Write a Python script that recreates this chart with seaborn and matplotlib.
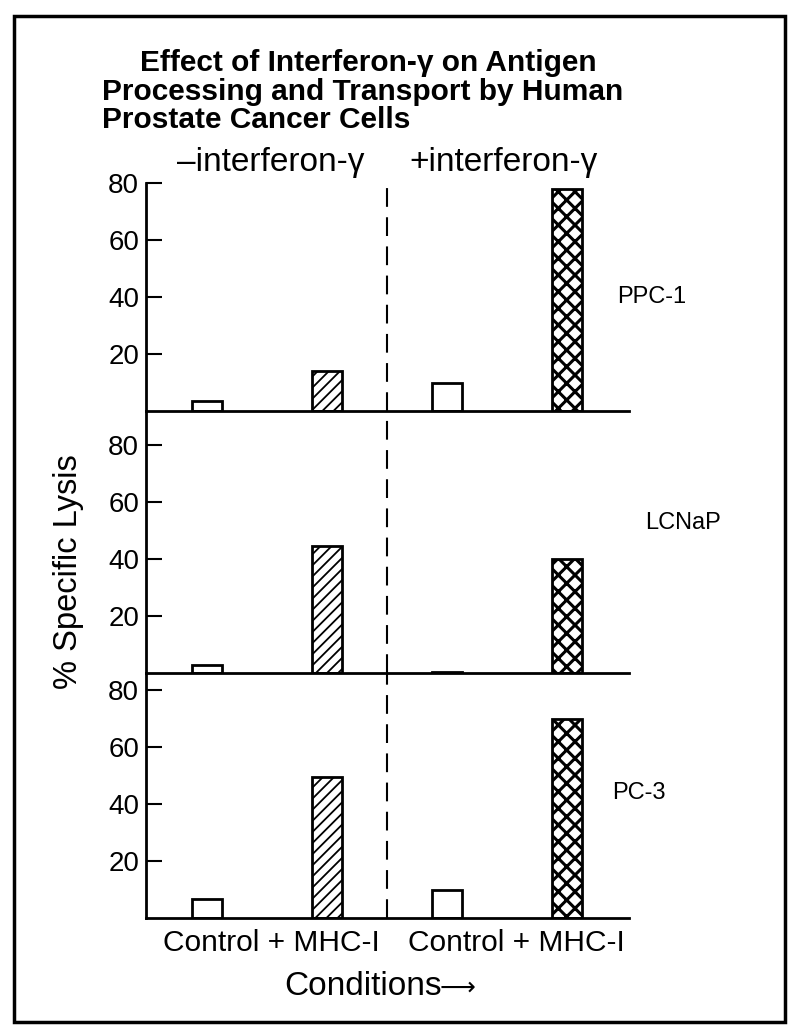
import matplotlib
matplotlib.use("Agg")
import matplotlib.pyplot as plt
from matplotlib.patches import Rectangle
import seaborn as sns
import pandas as pd

# data
cell_lines = ["PPC-1", "LCNaP", "PC-3"]
conditions = ["-IFN Control", "-IFN MHC-I", "+IFN Control", "+IFN MHC-I"]
ppc1_lysis = [3.6, 14, 10, 78]
lcnap_lysis = [2.7, 44.5, 0.5, 40]
pc3_lysis = [6.8, 49.5, 9.8, 70]
group_labels = ["\u2013interferon-\u03b3", "+interferon-\u03b3"]
condition_label = "Control + MHC-I"
y_ticks = [20, 40, 60, 80]
hatches = ["", "///", "", "xx"]

df = pd.DataFrame({
    "cell_line": [c for c in cell_lines for _ in conditions],
    "condition": conditions * len(cell_lines),
    "lysis": ppc1_lysis + lcnap_lysis + pc3_lysis,
})

sns.set_theme(style="white")
plt.rcParams["font.family"] = ["Liberation Sans", "DejaVu Sans"]
plt.rcParams["hatch.linewidth"] = 1.5
for key in ["text.color", "axes.labelcolor", "xtick.color", "ytick.color", "axes.edgecolor"]:
    plt.rcParams[key] = "black"

W, H = 800, 1035


def fx(px):
    return px / W


def fy(py):
    return 1 - py / H


fig = plt.figure(figsize=(W / 100, H / 100), dpi=100)

# panel extents in pixels (top, bottom)
panel_px = [(183, 411), (411, 673), (673, 918)]
label_px = [(617, 297), (645, 523), (612, 793)]
x_left, x_right = 146, 629

for i, line in enumerate(cell_lines):
    top, bottom = panel_px[i]
    ax = fig.add_axes([fx(x_left), fy(bottom), fx(x_right) - fx(x_left), (bottom - top) / H])
    sub = df[df["cell_line"] == line]
    sns.barplot(data=sub, x="condition", y="lysis", order=conditions, ax=ax,
                color="white", width=0.25, edgecolor="black", linewidth=2,
                errorbar=None, saturation=1)
    for patch, h in zip(ax.containers[0], hatches):
        patch.set_hatch(h)
        patch.set_facecolor("white")
        if h == "xx" and hasattr(patch, "set_hatch_linewidth"):
            patch.set_hatch_linewidth(2.2)
        elif h and hasattr(patch, "set_hatch_linewidth"):
            patch.set_hatch_linewidth(1.3)

    ax.set_xlim(-0.51, 3.52)
    ax.set_ylim(0, 80 * (bottom - top) / 228)
    ax.axvline(1.5, color="black", lw=1.5, dashes=(9, 5))

    ax.set_yticks(y_ticks)
    ax.set_yticklabels([str(t) for t in y_ticks])
    ax.tick_params(axis="y", direction="in", length=11.5, width=1.5,
                   labelsize=20, pad=5, left=True, colors="black")
    ax.set_xticks([])
    ax.set_xlabel("")
    ax.set_ylabel("")
    for s in ["top", "right"]:
        ax.spines[s].set_visible(False)
    for s in ["left", "bottom"]:
        ax.spines[s].set_linewidth(2)
        ax.spines[s].set_color("black")
    ax.patch.set_alpha(0)

    lx, ly = label_px[i]
    fig.text(fx(lx), fy(ly), line, ha="left", va="center", fontsize=17)

# group headers and condition labels
for cx, lab in zip([271, 504], group_labels):
    fig.text(fx(cx), fy(162), lab, ha="center", va="center", fontsize=24)
for cx in [271, 516]:
    fig.text(fx(cx), fy(943), condition_label, ha="center", va="center", fontsize=21.5)

fig.text(fx(442), fy(995), "Conditions", ha="right", va="baseline", fontsize=24)
fig.text(fx(440), fy(995), "\u27f6", ha="left", va="baseline", fontsize=18,
         family=["DejaVu Sans"])
fig.text(fx(68), fy(572), "% Specific Lysis", rotation=90, ha="center", va="center",
         fontsize=23.5)

# title
fig.text(fx(140), fy(71), "Effect of Interferon-\u03b3 on Antigen", ha="left",
         va="baseline", fontsize=21.5, fontweight="bold")
fig.text(fx(102), fy(100), "Processing and Transport by Human", ha="left",
         va="baseline", fontsize=21.5, fontweight="bold")
fig.text(fx(102), fy(128), "Prostate Cancer Cells", ha="left",
         va="baseline", fontsize=21.5, fontweight="bold")

# outer frame
fig.add_artist(Rectangle((fx(14), fy(1022)), fx(785) - fx(14), (1022 - 16) / H,
                         transform=fig.transFigure, fill=False, lw=2.5, ec="black"))

fig.savefig("out.png", dpi=100)
